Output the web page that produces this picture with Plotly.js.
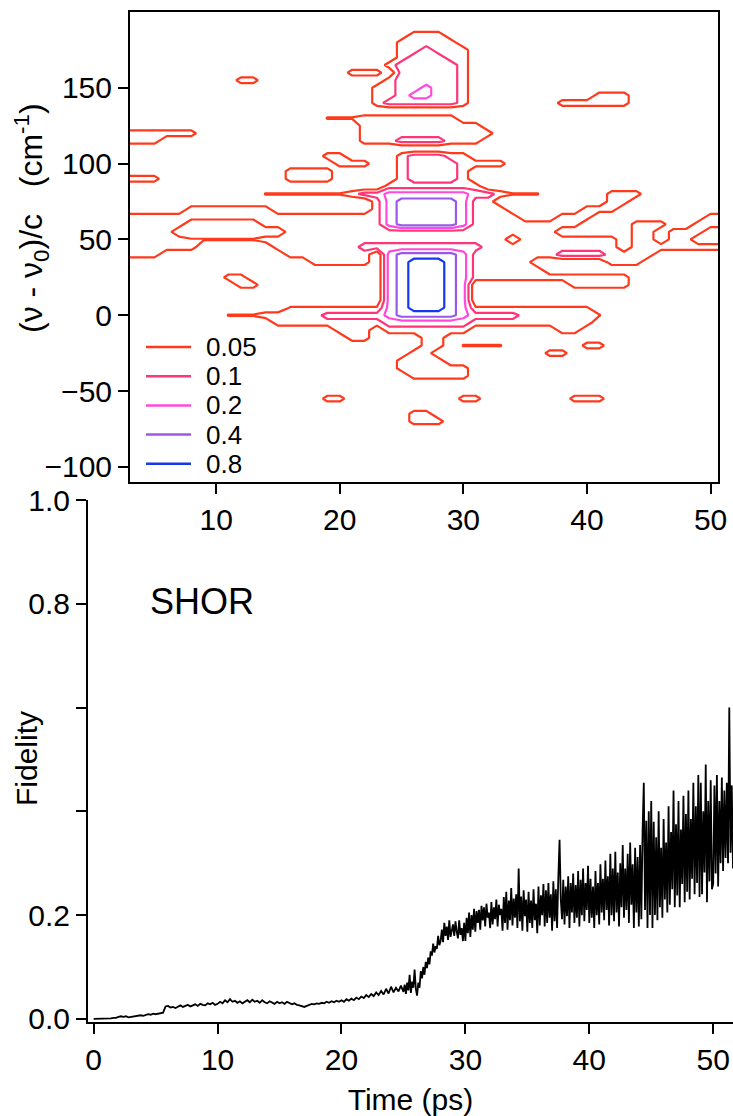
<!DOCTYPE html>
<html>
<head>
<meta charset="utf-8">
<script src="https://cdn.plot.ly/plotly-3.0.1.min.js"></script>
<style>html,body{margin:0;padding:0;background:#fff;}#chart{width:733px;height:1116px;}</style>
</head>
<body>
<div id="chart"></div>
<script>
// ---------- Top panel: contour map (rows from y=190 down to y=-80, step 5; columns x=3..51, step 1 ps)
// codes: '.' = 0, 't' = 0.055, 'a' = 0.08, 'b' = 0.14, 'c' = 0.28, 'd' = 0.56, 'e' = 1.0
const contourLevels = [0.05, 0.1, 0.2, 0.4, 0.8];
const levelLabels = ['0.05', '0.1', '0.2', '0.4', '0.8'];
const levelColors = ['#ff3a1c', '#ff3578', '#ff48dc', '#9a58ea', '#1438f0'];
const codeValues = {'.': 0, 't': 0.055, 'a': 0.08, 'b': 0.14, 'c': 0.28, 'd': 0.56, 'e': 1.0};
const mapX0 = 3, mapDX = 1, mapY0 = 190, mapDY = -5;
const mapRows = [
  ".......... .......... .......... .......... .........", // 190
  ".......... .......... ...aaa.... .......... .........", // 185
  ".......... .......... ..aaaaa... .......... .........", // 180
  ".......... .......... ..aabaaa.. .......... .........", // 175
  ".......... .......... ..abbbaa.. .......... .........", // 170
  ".......... .......... .abbbbba.. .......... .........", // 165
  ".......... ........aa a.bbbbba.. .......... .........", // 160
  ".........a a......... .abbbbba.. .......... .........", // 155
  ".......... .......... aabbcbba.. .......... .........", // 150
  ".......... .......... aabccbba.. ........aa a........", // 145
  ".......... .......... abbbbbba.. .....aaaaa a........", // 140
  ".......... .......... .......... .......... .........", // 135
  ".......... ......ttta aaaaaaa... .......... .........", // 130
  ".......... .........a aaaaaaaaa. .......... .........", // 125
  "aaaaaa.... .........a aaaaaaaaaa .......... .........", // 120
  "aaa....... .........a aabbbbaaa. .......... .........", // 115
  ".......... .......... .......... .......... .........", // 110
  ".......... ......aa.. ..abbbaa.. .......... .........", // 105
  ".......... .......aaa ..abbbbaaa a......... .........", // 100
  ".......... ...aaaa... ..abbbba.. .......... .........", // 95
  "aaa....... ...aaaa... ..abbbba.. .......... .........", // 90
  ".......... .......... .aaaaaaaa. .......... .........", // 85
  ".......... .tttttttab bcccccccbb attt.....a aa.......", // 80
  ".......... .......... acdddddcaa .........a a........", // 75
  ".....aaaaa aa........ acdddddcaa a......aaa .........", // 70
  "aaaaaaaaaa aaaaaaaaaa acdddddcaa aa...aaa.. .......aa", // 65
  "aaaaa..... .aaaaaaaaa acdddddcaa aaaaaaa... .aaa..aaa", // 60
  "aaaa...... ...aaaaaaa aaaaaaaaaa aaaaa..... .aa.aaa..", // 55
  "aaaaattttt taaaaaaaaa aaaaaaaaaa a.aaaaaaaa .aa.aa...", // 50
  "aaaaaa.... ..aaaaaaab bbbbbbbbba aaaaaaaaaa .aaaaaaaa", // 45
  "aaa....... ...aaaaaaa .cdddddcaa aaaaabbbba aaa......", // 40
  ".......... .....aaaaa .cdeeedcaa aaa......a aa.......", // 35
  ".......... .......... .cdeeedcaa aaaa...... .........", // 30
  "........aa .......... .cdeeedcaa aaaaaaaaaa a........", // 25
  ".........a a......... .cdeeedc.. ......aaaa a........", // 20
  ".......... .......... .cdeeedc.. .......... .........", // 15
  ".......... .......... .cdeeedc.. .......... .........", // 10
  ".......... ...ttttttt tcdeeedctt tttttttt.. .........", // 5
  "........tt taaaaabbbb bcdddddcbb bbaaaaaat. .........", // 0
  ".......... ..aaaaaaaa abbbbbbbaa aaaaaaaa.. .........", // -5
  ".......... .......aaa .aaaaaaa.. .....aa... .........", // -10
  ".......... ........aa ....aa.... .......... .........", // -15
  ".......... .......... ....aa.ttt t......aa. .........", // -20
  ".......... .......... ...aa..... ....aa.... .........", // -25
  ".......... .......... ..aaaa.... .......... .........", // -30
  ".......... .......... ..aaaaaa.. .......... .........", // -35
  ".......... .......... ...aaaaa.. .......... .........", // -40
  ".......... .......... .......... .......... .........", // -45
  ".......... .......... .......... .......... .........", // -50
  ".......... ......aa.. .......aa. ......aaa. .........", // -55
  ".......... .......... .......... .......... .........", // -60
  ".......... .......... ...aa..... .......... .........", // -65
  ".......... .......... ...aaa.... .......... .........", // -70
  ".......... .......... .......... .......... .........", // -75
  ".......... .......... .......... .......... ........."  // -80
];

// ---------- Bottom panel: fidelity vs time
// early part: t = 0 .. 24.8 ps every 0.2 ps
const earlyStart = 0, earlyStep = 0.2;
const fidelityEarly = [
  0.000,0.000,0.001,0.000,0.001,0.001,0.000,0.001,0.002,0.002,
  0.004,0.005,0.004,0.005,0.003,0.004,0.005,0.006,0.006,0.007,
  0.006,0.008,0.009,0.008,0.010,
  0.009,0.010,0.011,0.012,0.024,0.025,0.022,0.023,0.021,0.024,
  0.026,0.023,0.025,0.027,0.024,0.026,0.028,0.025,0.029,0.027,
  0.026,0.030,0.028,0.031,0.027,
  0.029,0.033,0.030,0.036,0.032,0.038,0.033,0.035,0.031,0.034,
  0.030,0.033,0.036,0.032,0.037,0.033,0.035,0.031,0.036,0.032,
  0.030,0.034,0.031,0.029,0.033,
  0.030,0.032,0.029,0.033,0.031,0.028,0.030,0.027,0.026,0.024,
  0.023,0.025,0.027,0.029,0.028,0.030,0.029,0.031,0.030,0.033,
  0.031,0.034,0.032,0.035,0.033,
  0.036,0.033,0.038,0.035,0.039,0.036,0.041,0.038,0.043,0.040,
  0.046,0.042,0.048,0.044,0.051,0.046,0.054,0.047,0.058,0.049,
  0.062,0.051,0.060,0.053,0.064
];
// late part: t = 25.0 .. 51.9 ps every 0.1 ps
const lateStart = 25, lateStep = 0.1;
const fidelityLate = [
  0.052,0.066,0.048,0.070,0.055,0.085,0.050,0.072,0.060,0.095, // 25
  0.058,0.045,0.070,0.060,0.092,0.078,0.100,0.085,0.110,0.098, // 26
  0.118,0.105,0.130,0.122,0.145,0.128,0.140,0.135,0.160,0.142, // 27
  0.150,0.172,0.148,0.185,0.160,0.178,0.152,0.190,0.158,0.175, // 28
  0.182,0.160,0.188,0.168,0.155,0.190,0.162,0.175,0.150,0.185, // 29
  0.150,0.195,0.165,0.205,0.158,0.200,0.172,0.212,0.168,0.208, // 30
  0.185,0.210,0.172,0.218,0.190,0.215,0.178,0.222,0.195,0.205, // 31
  0.175,0.225,0.182,0.215,0.192,0.230,0.178,0.220,0.200,0.212, // 32
  0.170,0.235,0.185,0.245,0.172,0.228,0.190,0.252,0.180,0.232, // 33
  0.195,0.240,0.175,0.290,0.188,0.236,0.170,0.248,0.198,0.230, // 34
  0.168,0.245,0.185,0.228,0.175,0.250,0.190,0.222,0.165,0.255, // 35
  0.180,0.238,0.200,0.260,0.178,0.248,0.185,0.262,0.195,0.240, // 36
  0.170,0.265,0.188,0.250,0.175,0.272,0.345,0.230,0.192,0.268, // 37
  0.182,0.255,0.198,0.275,0.175,0.262,0.205,0.280,0.185,0.258, // 38
  0.195,0.285,0.178,0.268,0.200,0.290,0.188,0.262,0.210,0.295, // 39
  0.185,0.270,0.195,0.255,0.175,0.285,0.200,0.262,0.182,0.298, // 40
  0.205,0.270,0.190,0.305,0.210,0.275,0.180,0.318,0.200,0.290, // 41
  0.188,0.322,0.205,0.282,0.178,0.300,0.215,0.335,0.195,0.290, // 42
  0.210,0.318,0.185,0.340,0.220,0.298,0.175,0.330,0.205,0.312, // 43
  0.178,0.335,0.192,0.360,0.455,0.210,0.382,0.175,0.400,0.200, // 44
  0.420,0.175,0.380,0.200,0.350,0.190,0.400,0.215,0.330,0.195, // 45
  0.385,0.230,0.340,0.205,0.410,0.220,0.360,0.250,0.440,0.215, // 46
  0.375,0.238,0.420,0.215,0.365,0.260,0.430,0.225,0.395,0.245, // 47
  0.440,0.230,0.385,0.270,0.455,0.240,0.410,0.262,0.470,0.235, // 48
  0.455,0.240,0.400,0.282,0.490,0.225,0.420,0.265,0.460,0.250, // 49
  0.260,0.450,0.280,0.470,0.255,0.420,0.300,0.465,0.285,0.440, // 50
  0.310,0.455,0.300,0.600,0.320,0.450,0.290,0.430,0.340,0.420  // 51
];
const fidelityTicks = [0, 0.2, 0.8, 1.0];
const fidelityTickText = ['0.0', '0.2', '0.8', '1.0'];
const fidelityMinorTicks = [0.4, 0.6];
const timeTicks = [0, 10, 20, 30, 40, 50];
const mapXTicks = [10, 20, 30, 40, 50];
const mapYTicks = [-100, -50, 0, 50, 100, 150];

// ---------- build grid
function levelIndex(v) { // piecewise-linear position of v among the contour levels
  if (v <= 0) return 0;
  const L = contourLevels;
  if (v < L[0]) return v / L[0];
  for (let i = 0; i < L.length - 1; i++) {
    if (v <= L[i + 1]) return (i + 1) + (v - L[i]) / (L[i + 1] - L[i]);
  }
  const n = L.length;
  return n + (v - L[n - 1]) / (L[n - 1] - L[n - 2]);
}
const gx = [], gy = [], gz = [];
const rowsClean = mapRows.map(r => r.replace(/ /g, ''));
const nCols = rowsClean[0].length;
for (let j = 0; j < nCols; j++) gx.push(mapX0 + j * mapDX);
for (let i = rowsClean.length - 1; i >= 0; i--) {
  gy.push(mapY0 + i * mapDY);
  const row = [];
  for (let j = 0; j < nCols; j++) row.push(levelIndex(codeValues[rowsClean[i][j]] || 0));
  gz.push(row);
}
const times = fidelityEarly.map((_, i) => +(earlyStart + i * earlyStep).toFixed(2))
  .concat(fidelityLate.map((_, i) => +(lateStart + i * lateStep).toFixed(2)));
const fidelity = fidelityEarly.concat(fidelityLate);

const FONT = 'Liberation Sans, Arial, Helvetica, sans-serif';
const W = 733, H = 1116;
const traces = [];
traces.push({
  type: 'contour', x: gx, y: gy, z: gz, xaxis: 'x', yaxis: 'y',
  autocontour: false,
  contours: {start: 1, end: contourLevels.length, size: 1, coloring: 'lines', showlabels: false},
  zmin: 1, zmax: contourLevels.length,
  colorscale: levelColors.map((c, i) => [i / (levelColors.length - 1), c]),
  line: {width: 2.2, smoothing: 0},
  showscale: false, showlegend: false, hoverinfo: 'skip'
});
traces.push({
  type: 'scatter', mode: 'lines', x: times, y: fidelity, xaxis: 'x2', yaxis: 'y2',
  line: {color: '#000', width: 1.8}, showlegend: false
});

// legend for the contour levels (drawn inside the top panel)
const legendTop = 347, legendStep = 29.2, legendX0 = 146, legendX1 = 191, legendTextX = 204;
const shapes = [], annotations = [];
levelLabels.forEach((lab, i) => {
  const yy = 1 - (legendTop + i * legendStep) / H;
  shapes.push({type: 'line', xref: 'paper', yref: 'paper', x0: legendX0 / W, x1: legendX1 / W, y0: yy, y1: yy,
               line: {color: levelColors[i], width: 2.5}});
  annotations.push({text: lab, xref: 'paper', yref: 'paper', x: legendTextX / W, y: yy, xanchor: 'left', yanchor: 'middle',
                    showarrow: false, font: {family: FONT, size: 26, color: '#000'}});
});
annotations.push({text: '(\u03bd - \u03bd<sub>0</sub>)/c\u00a0\u00a0\u00a0(cm<sup>-1</sup>)', xref: 'paper', yref: 'paper',
                  x: 31 / W, y: 1 - 218 / H, xanchor: 'center', yanchor: 'middle', textangle: -90,
                  showarrow: false, font: {family: FONT, size: 32, color: '#000'}});
annotations.push({text: 'Fidelity', xref: 'paper', yref: 'paper', x: 26 / W, y: 1 - 759 / H,
                  xanchor: 'center', yanchor: 'middle', textangle: -90,
                  showarrow: false, font: {family: FONT, size: 30, color: '#000'}});
annotations.push({text: 'SHOR', xref: 'x2', yref: 'y2', x: 4.35, y: 0.805, xanchor: 'left', yanchor: 'middle',
                  showarrow: false, font: {family: FONT, size: 36, color: '#000'}});

const axBase = {
  showgrid: false, zeroline: false, showline: true, linecolor: '#000', linewidth: 2,
  ticks: 'outside', ticklen: 10, tickwidth: 2, tickcolor: '#000',
  tickfont: {family: FONT, size: 30, color: '#000'}, tickmode: 'array'
};
const layout = {
  width: W, height: H, margin: {l: 0, r: 0, t: 0, b: 0},
  paper_bgcolor: '#fff', plot_bgcolor: '#fff',
  font: {family: FONT, color: '#000'},
  showlegend: false,
  xaxis: Object.assign({}, axBase, {domain: [130 / W, 718 / W], range: [3.03, 50.6], anchor: 'y',
           tickvals: mapXTicks, mirror: true}),
  yaxis: Object.assign({}, axBase, {domain: [1 - 482 / H, 1 - 12 / H], range: [-110, 200], anchor: 'x',
           tickvals: mapYTicks, mirror: true}),
  xaxis2: Object.assign({}, axBase, {domain: [88 / W, 1], range: [-0.46, 51.6], anchor: 'y2',
           tickvals: timeTicks,
           title: {text: 'Time (ps)', font: {family: FONT, size: 30}, standoff: 14}}),
  yaxis2: Object.assign({}, axBase, {domain: [1 - 1022 / H, 1 - 500 / H], range: [-0.006, 1.0], anchor: 'x2',
           tickvals: fidelityTicks, ticktext: fidelityTickText,
           minor: {tickmode: 'array', tickvals: fidelityMinorTicks, ticks: 'outside', ticklen: 10, tickwidth: 2, tickcolor: '#000', showgrid: false}}),
  shapes: shapes,
  annotations: annotations
};
Plotly.newPlot('chart', traces, layout, {staticPlot: true, displayModeBar: false});
</script>
</body>
</html>
